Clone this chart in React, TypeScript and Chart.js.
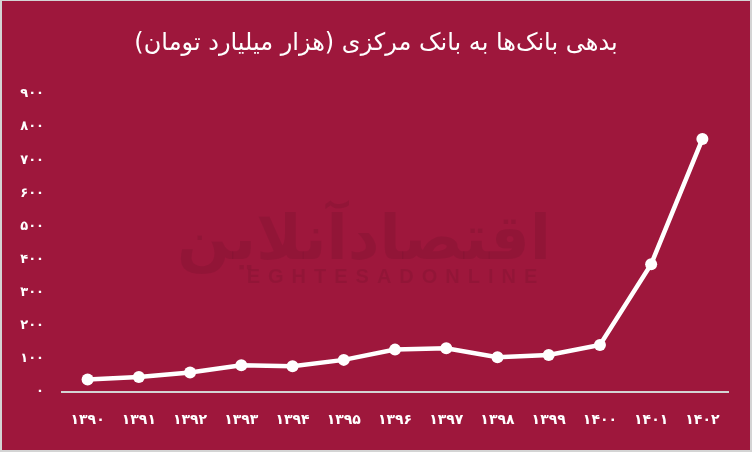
import React, { useEffect, useRef } from "react";
import { Chart, registerables } from "chart.js";

Chart.register(...registerables);

const years: string[] = ["۱۳۹۰", "۱۳۹۱", "۱۳۹۲", "۱۳۹۳", "۱۳۹۴", "۱۳۹۵", "۱۳۹۶", "۱۳۹۷", "۱۳۹۸", "۱۳۹۹", "۱۴۰۰", "۱۴۰۱", "۱۴۰۲"];
const debt: number[] = [38, 45, 59, 81, 78, 97, 128, 132, 105, 112, 142, 386, 764];
const yMin = 0;
const yMax = 900;
const yStep = 100;
const titleText = "بدهی بانک‌ها به بانک مرکزی (هزار میلیارد تومان)";
const watermarkFa = "اقتصادآنلاین";
const watermarkEn = "EGHTESADONLINE";

const BG = "#9E173C";
const FONT = "'DejaVu Sans', sans-serif";

const faDigits = "۰۱۲۳۴۵۶۷۸۹";
const toFa = (v: number | string) => String(v).replace(/[0-9]/g, (d) => faDigits[Number(d)]);

const watermarkPlugin = {
  id: "watermark",
  beforeDatasetsDraw(chart: any) {
    const ctx = chart.ctx as CanvasRenderingContext2D;
    ctx.save();
    ctx.fillStyle = "rgba(0,0,0,0.07)";
    ctx.textAlign = "center";
    ctx.textBaseline = "alphabetic";
    (ctx as any).direction = "rtl";
    ctx.font = `bold 62px ${FONT}`;
    ctx.fillText(watermarkFa, 362, 258);
    (ctx as any).direction = "ltr";
    ctx.font = "bold 20px 'Liberation Sans', sans-serif";
    (ctx as any).letterSpacing = "8px";
    ctx.fillText(watermarkEn, 394, 282);
    ctx.restore();
  },
};

export default function App() {
  const ref = useRef<HTMLCanvasElement | null>(null);

  useEffect(() => {
    if (!ref.current) return;
    const chart = new Chart(ref.current, {
      type: "line",
      data: {
        labels: years,
        datasets: [
          {
            data: debt,
            yAxisID: "y",
            borderColor: "#ffffff",
            backgroundColor: "#ffffff",
            borderWidth: 4.5,
            pointRadius: 6,
            pointBackgroundColor: "#ffffff",
            pointBorderColor: "#ffffff",
            pointBorderWidth: 0,
            tension: 0,
            fill: false,
          },
        ],
      },
      options: {
        animation: false,
        responsive: true,
        maintainAspectRatio: false,
        layout: { padding: { left: 11, right: 11, top: 0, bottom: 0 } },
        plugins: {
          legend: { display: false },
          tooltip: { enabled: false },
          title: {
            display: true,
            text: "\u200F" + titleText + "\u200F",
            color: "#ffffff",
            font: { family: FONT, size: 24, weight: "normal" },
            padding: { top: 28, bottom: 36.2 },
          },
        },
        scales: {
          x: {
            offset: true,
            grid: { display: false, drawTicks: false },
            border: { display: true, color: "#d4d4d4", width: 2 },
            ticks: {
              color: "#ffffff",
              font: { family: FONT, size: 14, weight: "bold" },
              padding: 20,
              maxRotation: 0,
              autoSkip: false,
            },
            afterFit: (s: any) => {
              s.height = 58;
            },
          },
          y: {
            min: yMin,
            max: yMax,
            grid: { display: false, drawTicks: false },
            border: { display: false },
            ticks: {
              stepSize: yStep,
              color: "#ffffff",
              font: { family: FONT, size: 13, weight: "bold" },
              padding: 18,
              callback: (v: any) => toFa(v),
            },
            afterFit: (s: any) => {
              s.width = 49;
            },
          },
          yRight: {
            position: "right",
            min: yMin,
            max: yMax,
            grid: { display: false, drawTicks: false },
            border: { display: false },
            ticks: { display: false },
            afterFit: (s: any) => {
              s.width = 11;
            },
          },
        },
      },
      plugins: [watermarkPlugin],
    });
    return () => chart.destroy();
  }, []);

  return (
    <div
      style={{
        position: "fixed",
        top: 0,
        left: 0,
        width: 752,
        height: 452,
        background: "#d4d4d4",
        padding: "1px 2px 2px 2px",
        boxSizing: "border-box",
      }}
    >
      <div style={{ position: "relative", width: 748, height: 449, background: BG }}>
        <canvas ref={ref} dir="rtl" />
      </div>
    </div>
  );
}
